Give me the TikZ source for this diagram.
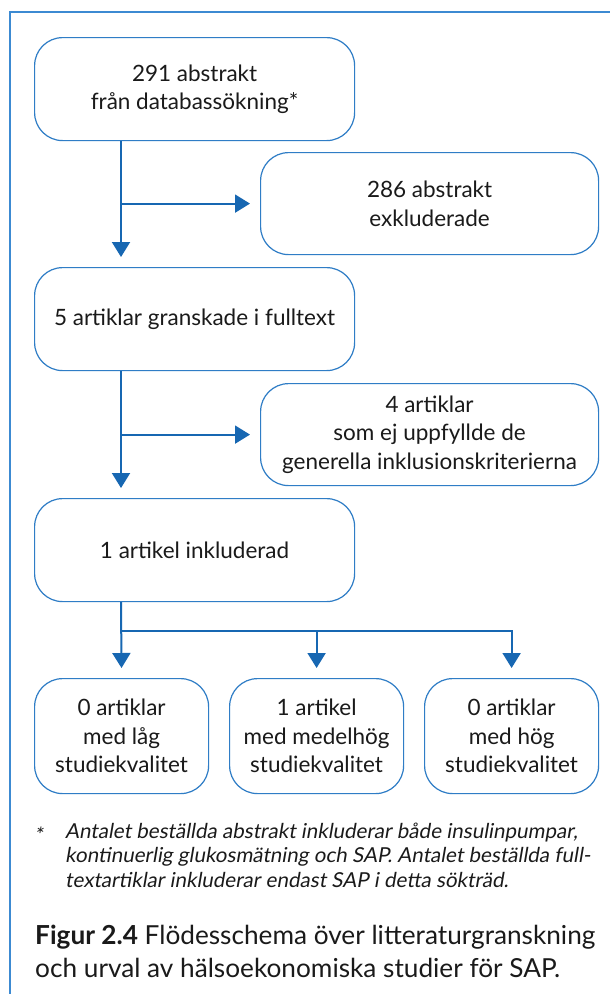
\documentclass[tikz,border=0pt]{standalone}
\usepackage{fontspec}
\setmainfont{Lato}
\newfontfamily\fnfont{Lato}[FakeSlant=0.17]
\usetikzlibrary{arrows.meta}
\definecolor{boxblue}{HTML}{2F7DC6}
\definecolor{linkblue}{HTML}{1767B2}
\definecolor{frameblue}{HTML}{3C8AD2}
\definecolor{txt}{HTML}{1A1A1A}
\begin{document}
\begin{tikzpicture}[x=1pt,y=-1pt,
  box/.style={draw=boxblue, line width=1.2pt, rounded corners=28pt, align=center,
    font=\fontsize{22.5}{28.5}\selectfont, text=txt, inner sep=0pt, anchor=north west},
  bigbox/.style={box, minimum width=320pt, minimum height=103pt},
  sidebox/.style={box, minimum width=338pt, minimum height=102pt},
  smallbox/.style={box, minimum width=174pt, minimum height=115pt},
  link/.style={draw=linkblue, line width=2pt},
  arr/.style={link, -{Triangle[length=15pt,width=18pt]}, shorten >=10pt},
  fn/.style={anchor=base west, inner sep=0pt, text=txt, font=\fnfont\fontsize{20.6}{24}\selectfont},
  captext/.style={anchor=base west, inner sep=0pt, text=txt, font=\fontsize{26.2}{32}\selectfont}]
\useasboundingbox (0,0) rectangle (610,994);
\fill[white] (0,0) rectangle (610,994);
\draw[frameblue, line width=1.6pt] (10,994) -- (10,12) -- (610,12);

\node[bigbox] (a) at (34,37) {291 abstrakt\\från databassökning*};
\node[sidebox] (b) at (260,152) {286 abstrakt\\exkluderade};
\node[bigbox] (c) at (34,267) {5 artiklar granskade i fulltext};
\node[sidebox] (d) at (260,383) {4 artiklar\\som ej uppfyllde de\\generella inklusionskriterierna};
\node[bigbox] (e) at (34,498) {1 artikel inkluderad};
\node[smallbox] (f) at (34,678) {0 artiklar\\med låg\\studiekvalitet};
\node[smallbox] (g) at (229,678) {1 artikel\\med medelhög\\studiekvalitet};
\node[smallbox] (h) at (424,678) {0 artiklar\\med hög\\studiekvalitet};

\coordinate (ab) at ([xshift=87pt]a.south west);
\coordinate (cn) at ([xshift=87pt]c.north west);
\coordinate (cb) at ([xshift=87pt]c.south west);
\coordinate (en) at ([xshift=87pt]e.north west);
\coordinate (eb) at ([xshift=87pt]e.south west);
\coordinate (j1) at (ab |- b.west);
\coordinate (j2) at (cb |- d.west);
\coordinate (j3) at (121,631);

\draw[arr] (ab) -- (cn);
\draw[arr] (j1) -- (b.west);
\draw[arr] (cb) -- (en);
\draw[arr] (j2) -- (d.west);
\draw[arr] (eb) -- (f.north);
\draw[arr] (j3) -| (g.north);
\draw[arr] (j3) -| (h.north);

\node[fn] (star) at (34,842) {*};
\node[fn] (f1) at (65,838) {Antalet beställda abstrakt inkluderar både insulinpumpar,};
\node[fn] (f2) at (65,862.5) {kontinuerlig glukosmätning och SAP. Antalet beställda full-};
\node[fn] (f3) at (65,887) {textartiklar inkluderar endast SAP i detta sökträd.};

\node[captext] (c1) at (35,944) {\textbf{Figur 2.4} Flödesschema över litteraturgranskning};
\node[captext] (c2) at (35,977) {och urval av hälsoekonomiska studier för SAP.};
\end{tikzpicture}
\end{document}
